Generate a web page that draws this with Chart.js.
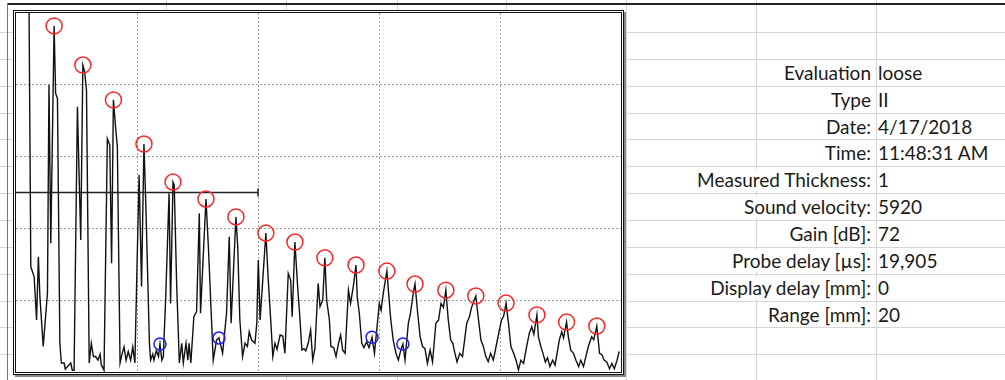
<!DOCTYPE html>
<html>
<head>
<meta charset="utf-8">
<title>A-scan</title>
<script src="https://cdn.jsdelivr.net/npm/chart.js@4.4.1/dist/chart.umd.min.js"></script>
<style>
  html, body { margin: 0; padding: 0; background: #fff; }
  body { width: 1005px; height: 380px; position: relative; overflow: hidden; font-family: Lato, 'Noto Sans', sans-serif; }
  .hline { position: absolute; left: 0; width: 1005px; height: 1px; background: #d6d6d6; }
  .vline { position: absolute; top: 0; width: 1px; height: 380px; background: #d6d6d6; }
  #topRule { position: absolute; left: 7px; top: 3px; width: 998px; height: 2px; background: #222; }
  #leftRule { position: absolute; left: 7px; top: 3px; width: 1px; height: 377px; background: #777; }
  #chartBox { position: absolute; left: 13px; top: 10px; width: 605px; height: 359px; border: 3px double #111; background: #fff; box-shadow: 2px 2px 0 #888; }
  .cell { position: absolute; height: 22px; line-height: 22px; font-size: 19px; color: #1a1a1a; background: #fff; white-space: nowrap; }
  .lab { right: 134px; text-align: right; }
  .val { left: 878px; }
</style>
</head>
<body>
<div id="sheet"></div>
<div id="topRule"></div>
<div id="leftRule"></div>
<div id="chartBox"><canvas id="scan" width="605" height="359"></canvas></div>
<div id="info"></div>
<script>
// A-scan trace (depth in mm, amplitude in % screen height)
const scanPos = [
  0.42, 0.49, 0.60, 0.68, 0.74, 0.79, 0.90, 1.04, 1.09, 1.15, 1.26, 1.31, 1.37, 1.45, 1.50, 1.59, 1.63, 1.70, 1.81, 1.86, 1.92,
  2.03, 2.14, 2.21, 2.27, 2.33, 2.42, 2.49, 2.56, 2.63, 2.71, 2.78, 2.82, 2.91,
  3.02, 3.10, 3.16, 3.22, 3.30, 3.35, 3.44, 3.49, 3.57, 3.64, 3.71, 3.79, 3.86, 3.93,
  4.01, 4.07, 4.15, 4.23, 4.30, 4.41, 4.45, 4.52, 4.56, 4.64, 4.71, 4.76, 4.82, 4.87, 4.95,
  5.06, 5.11, 5.19, 5.23, 5.31, 5.40, 5.48, 5.53, 5.62, 5.68, 5.72, 5.78, 5.88, 5.97,
  6.06, 6.10, 6.28, 6.36, 6.52, 6.63, 6.71, 6.83, 6.96,
  7.05, 7.11, 7.27, 7.33, 7.40, 7.49, 7.57, 7.65, 7.71, 7.79, 7.90, 7.96,
  8.01, 8.07, 8.26, 8.34, 8.42, 8.49, 8.56, 8.63, 8.73, 8.82, 8.89,
  9.00, 9.08, 9.13, 9.22, 9.31, 9.39, 9.45, 9.52, 9.58, 9.66, 9.74, 9.81, 9.88, 9.99,
  10.05, 10.14, 10.21, 10.27, 10.36, 10.41, 10.50, 10.58, 10.66, 10.73, 10.80, 10.88, 10.99,
  11.06, 11.15, 11.24, 11.28, 11.35, 11.43, 11.50, 11.59, 11.67, 11.77, 11.85,
  12.01, 12.07, 12.14, 12.26, 12.31, 12.39, 12.47, 12.56, 12.64, 12.72, 12.79, 12.86, 12.97,
  13.04, 13.13, 13.19, 13.28, 13.36, 13.44, 13.52, 13.60, 13.69, 13.77, 13.88, 13.97,
  14.05, 14.13, 14.21, 14.29, 14.37, 14.44, 14.51, 14.58, 14.67, 14.76, 14.90, 14.99,
  15.06, 15.20, 15.29, 15.37, 15.45, 15.53, 15.61, 15.69, 15.78, 15.87, 15.98,
  16.05, 16.12, 16.20, 16.28, 16.36, 16.45, 16.53, 16.61, 16.69, 16.78, 16.88, 16.97,
  17.05, 17.12, 17.22, 17.27, 17.35, 17.42, 17.50, 17.57, 17.65, 17.74, 17.82, 17.96,
  18.04, 18.10, 18.20, 18.26, 18.34, 18.43, 18.51, 18.60, 18.67, 18.76, 18.92,
  19.03, 19.10, 19.20, 19.29, 19.37, 19.44, 19.53, 19.62, 19.70, 19.78, 19.87, 19.94
];
const scanAmp = [
  115, 29.3, 26.5, 14.5, 32.1, 21.0, 7.1, 22.0, 80.0, 35.9, 96.4, 77.6, 76.2, 8.0, 2.5, 2.5, 0.8, 1.5, 2.5, 0.5, 0.5,
  73.9, 36.8, 85.5, 83.6, 78.5, 2.5, 8.0, 4.3, 4.3, 3.3, 5.0, 2.0, 0.5,
  65.0, 63.2, 30.3, 75.8, 67.4, 62.8, 2.5, 4.5, 7.0, 3.3, 5.7, 3.3, 7.0, 2.5,
  33.0, 54.9, 23.8, 63.5, 44.2, 8.1, 3.3, 5.0, 3.3, 6.0, 4.3, 7.8, 3.3, 4.3, 21.0,
  49.8, 19.1, 52.9, 52.1, 24.7, 2.5, 8.0, 2.5, 8.0, 3.3, 8.0, 2.5, 15.4, 16.8,
  44.2, 16.4, 48.2, 34.9, 3.3, 8.9, 9.5, 5.2, 16.3,
  37.7, 13.6, 43.2, 34.9, 14.5, 4.3, 8.0, 7.1, 11.2, 8.9, 8.0, 13.6,
  31.2, 14.5, 38.7, 25.6, 14.5, 4.3, 8.0, 6.3, 10.3, 10.0, 5.2,
  27.5, 25.6, 15.4, 36.2, 23.8, 14.5, 6.1, 6.5, 5.9, 8.0, 11.7, 3.3, 6.5, 24.7,
  18.2, 20.0, 31.8, 20.0, 14.5, 7.1, 6.8, 4.3, 8.0, 10.3, 6.1, 5.2, 22.8,
  19.1, 23.8, 29.8, 21.0, 16.3, 8.0, 6.8, 8.4, 6.8, 9.7, 5.2,
  19.1, 17.2, 21.9, 28.1, 22.8, 14.5, 8.9, 5.2, 3.3, 6.1, 7.8, 3.3, 13.6,
  16.3, 21.9, 24.5, 16.3, 9.8, 7.1, 6.5, 2.4, 6.1, 2.8, 13.6, 14.5,
  19.1, 18.0, 22.8, 14.5, 8.9, 8.0, 5.2, 2.8, 5.2, 4.3, 13.6, 15.4,
  18.0, 21.2, 14.5, 8.9, 7.1, 4.3, 2.9, 5.2, 3.3, 7.1, 11.7,
  14.5, 15.5, 19.2, 13.6, 7.1, 5.2, 3.3, 0.6, 3.3, 2.4, 7.1, 10.8,
  12.6, 10.5, 15.9, 9.8, 7.1, 5.2, 2.8, 4.0, 1.5, 3.3, 1.9, 8.9,
  11.2, 9.5, 13.9, 9.8, 6.1, 5.2, 3.3, 1.5, 3.3, 1.5, 7.1,
  9.8, 9.0, 12.8, 5.2, 4.8, 3.3, 2.8, 0.9, 2.4, 0.9, 3.3, 5.7
];

// back-wall echoes (red) and marked minima (blue)
const peakPos = [1.26, 2.21, 3.22, 4.23, 5.19, 6.28, 7.27, 8.26, 9.22, 10.21, 11.24, 12.26, 13.19, 14.21, 15.20, 16.20, 17.22, 18.20, 19.20];
const peakAmp = [96.4, 85.5, 75.8, 63.5, 52.9, 48.2, 43.2, 38.7, 36.2, 31.8, 29.8, 28.1, 24.5, 22.8, 21.2, 19.2, 15.9, 13.9, 12.8];
const minPos = [4.76, 6.71, 11.77, 12.79];
const minAmp = [7.8, 9.5, 9.7, 7.8];

// gate
const gateStart = 0;
const gateEnd = 8;
const gateLevel = 50;

const rangeMm = 20;
const xStep = 4;
const yStep = 20;

// sheet cells on the right
const infoLabels = ['Evaluation', 'Type', 'Date:', 'Time:', 'Measured Thickness:', 'Sound velocity:', 'Gain [dB]:', 'Probe delay [µs]:', 'Display delay [mm]:', 'Range [mm]:'];
const infoValues = ['loose', 'II', '4/17/2018', '11:48:31 AM', '1', '5920', '72', '19,905', '0', '20'];

// spreadsheet grid behind everything
const sheet = document.getElementById('sheet');
const rowTop = 32, rowH = 26.85;
for (let k = 0; k <= 12; k++) {
  const d = document.createElement('div');
  d.className = 'hline';
  d.style.top = Math.round(rowTop + k * rowH) + 'px';
  sheet.appendChild(d);
}
[166, 286, 397, 506, 626, 756, 876].forEach(x => {
  const d = document.createElement('div');
  d.className = 'vline';
  d.style.left = x + 'px';
  sheet.appendChild(d);
});

const info = document.getElementById('info');
infoLabels.forEach((txt, i) => {
  const top = Math.round(rowTop + (i + 1) * rowH) + 3;
  const lab = document.createElement('div');
  lab.className = 'cell lab';
  lab.style.top = top + 'px';
  lab.textContent = txt;
  info.appendChild(lab);
  const val = document.createElement('div');
  val.className = 'cell val';
  val.style.top = top + 'px';
  val.textContent = infoValues[i];
  info.appendChild(val);
});

const pts = (xs, ys) => xs.map((x, i) => ({ x: x, y: ys[i] }));

const gridColor = (max) => (c) => {
  const v = c.tick ? c.tick.value : null;
  return (v === 0 || v === max) ? 'rgba(0,0,0,0)' : '#9c9c9c';
};

new Chart(document.getElementById('scan').getContext('2d'), {
  type: 'scatter',
  data: {
    datasets: [
      {
        label: 'Echo peaks',
        data: pts(peakPos, peakAmp),
        pointStyle: 'circle',
        pointRadius: 8,
        pointBorderWidth: 1.5,
        pointBorderColor: '#ff2424',
        pointBackgroundColor: 'rgba(0,0,0,0)',
        showLine: false
      },
      {
        label: 'Minima',
        data: pts(minPos, minAmp),
        pointStyle: 'circle',
        pointRadius: 6,
        pointBorderWidth: 1.5,
        pointBorderColor: '#1e1eff',
        pointBackgroundColor: 'rgba(0,0,0,0)',
        showLine: false
      },
      {
        label: 'Gate',
        data: [{ x: gateStart, y: gateLevel }, { x: gateEnd, y: gateLevel }],
        showLine: true,
        borderColor: '#222',
        borderWidth: 1.5,
        pointStyle: 'line',
        pointRotation: 90,
        pointRadius: [0, 4],
        pointBorderColor: '#222',
        pointBorderWidth: 1.5
      },
      {
        label: 'A-scan',
        data: pts(scanPos, scanAmp),
        showLine: true,
        borderColor: '#111',
        borderWidth: 1.4,
        pointRadius: 0,
        tension: 0
      }
    ]
  },
  options: {
    responsive: false,
    devicePixelRatio: 1,
    animation: false,
    layout: { padding: 0, autoPadding: false },
    plugins: { legend: { display: false }, tooltip: { enabled: false } },
    scales: {
      x: {
        type: 'linear',
        min: 0,
        max: rangeMm,
        ticks: { display: false, stepSize: xStep },
        grid: { color: gridColor(rangeMm), lineWidth: 1, drawTicks: false },
        border: { display: false, dash: [2, 2] }
      },
      y: {
        min: 0,
        max: 100,
        ticks: { display: false, stepSize: yStep },
        grid: { color: gridColor(100), lineWidth: 1, drawTicks: false },
        border: { display: false, dash: [2, 2] }
      }
    }
  }
});
</script>
</body>
</html>
